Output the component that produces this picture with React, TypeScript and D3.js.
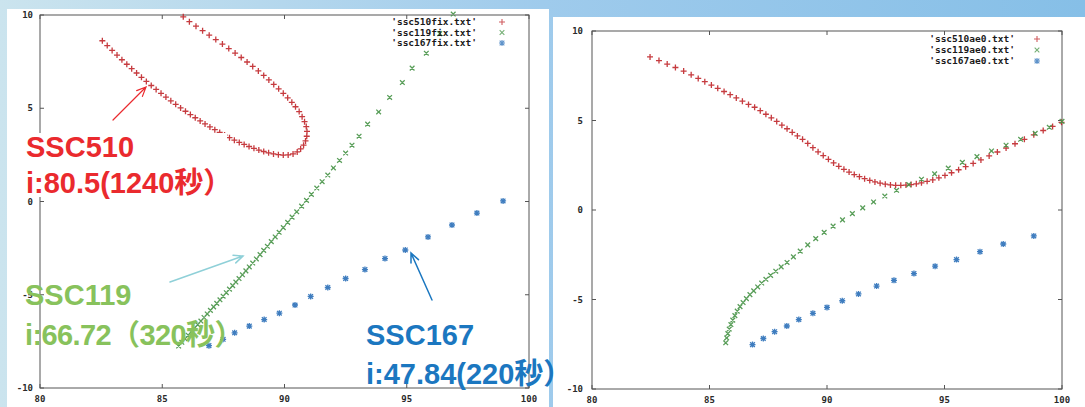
import { useEffect } from "react";
import * as d3 from "d3";

type Pt = [number, number];
type Kind = "plus" | "cross" | "star";

const X_TICKS = [80, 85, 90, 95, 100];
const Y_TICKS = [-10, -5, 0, 5, 10];

const FIX_LEGEND = ["'ssc510fix.txt'", "'ssc119fix.txt'", "'ssc167fix.txt'"];
const AE0_LEGEND = ["'ssc510ae0.txt'", "'ssc119ae0.txt'", "'ssc167ae0.txt'"];

// left plot: *fix.txt
const FIX_510: Pt[] = [
  [82.55, 8.62], [82.75, 8.36], [82.95, 8.1], [83.15, 7.85], [83.35, 7.6], [83.55, 7.36],
  [83.75, 7.12], [83.95, 6.89], [84.15, 6.66], [84.35, 6.44], [84.55, 6.22], [84.75, 6.01],
  [84.95, 5.8], [85.15, 5.6], [85.35, 5.4], [85.55, 5.21], [85.75, 5.02], [85.95, 4.84],
  [86.15, 4.66], [86.35, 4.49], [86.55, 4.32], [86.75, 4.16], [86.95, 4.0], [87.15, 3.85],
  [87.35, 3.7], [87.55, 3.56], [87.75, 3.42], [87.95, 3.29], [88.15, 3.17], [88.35, 3.06],
  [88.55, 2.95], [88.75, 2.85], [88.95, 2.76], [89.15, 2.68], [89.35, 2.61], [89.55, 2.55],
  [89.75, 2.51], [89.95, 2.49], [90.15, 2.5], [90.35, 2.55], [90.52, 2.66], [90.66, 2.82],
  [90.78, 3.02], [90.86, 3.25], [90.91, 3.5], [90.92, 3.76], [90.89, 4.02], [90.82, 4.28],
  [90.72, 4.55], [90.6, 4.82], [90.45, 5.08], [90.3, 5.32], [90.13, 5.56], [89.95, 5.8],
  [89.76, 6.04], [89.56, 6.28], [89.36, 6.52], [89.15, 6.76], [88.93, 7.0], [88.7, 7.24],
  [88.47, 7.48], [88.23, 7.72], [87.98, 7.96], [87.72, 8.2], [87.46, 8.44], [87.19, 8.68],
  [86.92, 8.92], [86.65, 9.16], [86.38, 9.4], [86.11, 9.64], [85.86, 9.9],
];

const FIX_119: Pt[] = [
  [85.67, -7.75], [85.8, -7.55], [85.93, -7.36], [86.06, -7.17], [86.19, -6.98], [86.32, -6.79],
  [86.45, -6.6], [86.58, -6.41], [86.71, -6.22], [86.84, -6.03], [86.97, -5.84], [87.1, -5.65],
  [87.23, -5.46], [87.36, -5.27], [87.49, -5.08], [87.62, -4.89], [87.75, -4.7], [87.88, -4.51],
  [88.01, -4.32], [88.14, -4.13], [88.28, -3.93], [88.42, -3.72], [88.56, -3.51], [88.7, -3.3],
  [88.85, -3.08], [89.0, -2.85], [89.15, -2.62], [89.3, -2.4], [89.46, -2.15], [89.62, -1.9],
  [89.78, -1.65], [89.95, -1.4], [90.13, -1.12], [90.31, -0.84], [90.5, -0.55], [90.7, -0.25],
  [90.9, 0.06], [91.1, 0.38], [91.32, 0.72], [91.54, 1.06], [91.77, 1.42], [92.0, 1.8],
  [92.25, 2.2], [92.5, 2.6], [92.76, 3.02], [93.05, 3.5], [93.4, 4.15], [93.85, 4.8],
  [94.3, 5.58], [94.82, 6.38], [95.22, 7.15], [95.8, 7.95], [96.35, 9.0], [96.9, 10.05],
];

const FIX_167: Pt[] = [
  [86.91, -7.73], [87.49, -7.39], [87.96, -7.04], [88.56, -6.68], [89.17, -6.33], [89.79, -5.99],
  [90.43, -5.55], [91.07, -5.09], [91.77, -4.61], [92.5, -4.13], [93.29, -3.65], [94.11, -3.06],
  [94.94, -2.6], [95.87, -1.9], [96.85, -1.26], [97.87, -0.62], [98.94, 0.03],
];

// right plot: *ae0.txt
const AE0_510: Pt[] = [
  [82.47, 8.55], [82.85, 8.35], [83.2, 8.15], [83.55, 7.96], [83.9, 7.76], [84.22, 7.55],
  [84.52, 7.35], [84.8, 7.17], [85.08, 6.98], [85.35, 6.8], [85.62, 6.62], [85.88, 6.44],
  [86.14, 6.26], [86.4, 6.08], [86.66, 5.9], [86.92, 5.74], [87.16, 5.55], [87.4, 5.35],
  [87.63, 5.15], [87.86, 4.95], [88.08, 4.74], [88.3, 4.54], [88.52, 4.34], [88.74, 4.14],
  [88.96, 3.95], [89.18, 3.72], [89.4, 3.48], [89.62, 3.25], [89.84, 3.04], [90.06, 2.83],
  [90.28, 2.63], [90.5, 2.44], [90.72, 2.27], [90.94, 2.12], [91.16, 1.98], [91.38, 1.86],
  [91.6, 1.75], [91.82, 1.65], [92.04, 1.57], [92.26, 1.5], [92.48, 1.44], [92.7, 1.4],
  [92.92, 1.38], [93.14, 1.38], [93.36, 1.39], [93.58, 1.42], [93.8, 1.46], [94.02, 1.52],
  [94.26, 1.6], [94.5, 1.68], [94.76, 1.8], [95.02, 1.93], [95.3, 2.08], [95.6, 2.25],
  [95.9, 2.42], [96.22, 2.6], [96.55, 2.8], [96.9, 3.02], [97.25, 3.24], [97.62, 3.46],
  [98.0, 3.7], [98.4, 3.95], [98.8, 4.2], [99.2, 4.44], [99.6, 4.67], [99.98, 4.9],
];

const AE0_119: Pt[] = [
  [85.69, -7.42], [85.73, -7.15], [85.78, -6.9], [85.84, -6.65], [85.91, -6.4], [85.99, -6.15],
  [86.08, -5.9], [86.18, -5.65], [86.3, -5.4], [86.43, -5.17], [86.57, -4.95], [86.72, -4.73],
  [86.88, -4.52], [87.05, -4.3], [87.22, -4.08], [87.4, -3.87], [87.6, -3.65], [87.82, -3.42],
  [88.05, -3.18], [88.3, -2.93], [88.57, -2.62], [88.86, -2.3], [89.18, -1.95], [89.52, -1.6],
  [89.88, -1.25], [90.26, -0.9], [90.66, -0.55], [91.08, -0.2], [91.52, 0.12], [91.98, 0.45],
  [92.46, 0.78], [92.96, 1.1], [93.48, 1.42], [94.02, 1.72], [94.58, 2.02], [95.16, 2.34],
  [95.76, 2.66], [96.38, 2.98], [97.0, 3.3], [97.62, 3.62], [98.24, 3.95], [98.86, 4.28],
  [99.46, 4.62], [100.0, 4.95],
];

const AE0_167: Pt[] = [
  [86.83, -7.52], [87.29, -7.18], [87.77, -6.8], [88.29, -6.48], [88.8, -6.12], [89.4, -5.77],
  [90.0, -5.44], [90.65, -5.07], [91.34, -4.69], [92.11, -4.25], [92.85, -3.93], [93.7, -3.55],
  [94.6, -3.14], [95.51, -2.77], [96.51, -2.33], [97.5, -1.9], [98.8, -1.45],
];

interface Series {
  data: Pt[];
  kind: Kind;
  color: string;
  key: string;
}

interface Box {
  left: number;
  right: number;
  top: number;
  bottom: number;
  labelGap: number;
  legendEnd: number;
  legendMark: number;
  legendTop: number;
  legendStep: number;
}

function marker(kind: Kind, x: number, y: number, r: number): string {
  const plus = `M${x - r},${y}h${2 * r}M${x},${y - r}v${2 * r}`;
  const k = r * 0.78;
  const cross = `M${x - k},${y - k}l${2 * k},${2 * k}M${x - k},${y + k}l${2 * k},${-2 * k}`;
  if (kind === "plus") return plus;
  if (kind === "cross") return cross;
  return plus + cross;
}

const tickFont = {
  fontFamily: "'DejaVu Sans Mono', monospace",
  fontWeight: 700,
  fontSize: 9,
  fill: "#2a2a2a",
};

function Panel({ box, series, legend }: { box: Box; series: Series[]; legend: string[] }) {
  const x = d3.scaleLinear().domain([80, 100]).range([box.left, box.right]);
  const y = d3.scaleLinear().domain([-10, 10]).range([box.bottom, box.top]);
  const tl = 4;
  const axisColor = "#555";

  return (
    <g>
      <rect
        x={box.left}
        y={box.top}
        width={box.right - box.left}
        height={box.bottom - box.top}
        fill="none"
        stroke={axisColor}
        strokeWidth={1}
      />
      {X_TICKS.map((t) => (
        <g key={"x" + t}>
          <line x1={x(t)} x2={x(t)} y1={box.bottom} y2={box.bottom - tl} stroke={axisColor} />
          <line x1={x(t)} x2={x(t)} y1={box.top} y2={box.top + tl} stroke={axisColor} />
          <text x={x(t)} y={box.bottom + 14} textAnchor="middle" style={tickFont}>
            {t}
          </text>
        </g>
      ))}
      {Y_TICKS.map((t) => (
        <g key={"y" + t}>
          <line x1={box.left} x2={box.left + tl} y1={y(t)} y2={y(t)} stroke={axisColor} />
          <line x1={box.right} x2={box.right - tl} y1={y(t)} y2={y(t)} stroke={axisColor} />
          <text x={box.left - box.labelGap} y={y(t) + 3} textAnchor="end" style={tickFont}>
            {t}
          </text>
        </g>
      ))}
      {series.map((s) => (
        <path
          key={s.key}
          d={s.data.map(([a, b]) => marker(s.kind, x(a), y(b), 3)).join("")}
          fill="none"
          stroke={s.color}
          strokeWidth={1.3}
          strokeOpacity={0.9}
        />
      ))}
      {legend.map((label, i) => {
        const ly = box.legendTop + i * box.legendStep;
        return (
          <g key={label}>
            <text
              x={box.legendEnd}
              y={ly + 3}
              textAnchor="end"
              style={{ ...tickFont, fontSize: 9.5, fill: "#1a1a1a" }}
            >
              {label}
            </text>
            <path
              d={marker(series[i].kind, box.legendMark, ly, 3)}
              fill="none"
              stroke={series[i].color}
              strokeWidth={1.1}
              strokeOpacity={0.75}
            />
          </g>
        );
      })}
    </g>
  );
}

const RED = "#c0262a";
const GREEN = "#479447";
const BLUE = "#2a6fb8";

const annoFont = {
  fontFamily: "'Liberation Sans', Arial, 'Noto Sans CJK JP', sans-serif",
  fontWeight: 700,
  fontSize: 29,
};

function Arrow({ x1, y1, x2, y2, color, w }: { x1: number; y1: number; x2: number; y2: number; color: string; w: number }) {
  const a = Math.atan2(y2 - y1, x2 - x1);
  const h = 10;
  const s = 0.42;
  const p1 = [x2 - h * Math.cos(a - s), y2 - h * Math.sin(a - s)];
  const p2 = [x2 - h * Math.cos(a + s), y2 - h * Math.sin(a + s)];
  return (
    <path
      d={`M${x1},${y1}L${x2},${y2}M${p1[0]},${p1[1]}L${x2},${y2}L${p2[0]},${p2[1]}`}
      fill="none"
      stroke={color}
      strokeWidth={w}
      strokeLinecap="round"
    />
  );
}

export default function App() {
  useEffect(() => {
    document.body.style.margin = "0";
  }, []);

  const leftBox: Box = {
    left: 40, right: 529, top: 15, bottom: 388, labelGap: 7,
    legendEnd: 477, legendMark: 502, legendTop: 22, legendStep: 10.5,
  };
  const rightBox: Box = {
    left: 592, right: 1062, top: 31, bottom: 389, labelGap: 9,
    legendEnd: 1015, legendMark: 1037, legendTop: 39, legendStep: 11,
  };

  const fixSeries: Series[] = [
    { key: "510", data: FIX_510, kind: "plus", color: RED },
    { key: "119", data: FIX_119, kind: "cross", color: GREEN },
    { key: "167", data: FIX_167, kind: "star", color: BLUE },
  ];
  const ae0Series: Series[] = [
    { key: "510", data: AE0_510, kind: "plus", color: RED },
    { key: "119", data: AE0_119, kind: "cross", color: GREEN },
    { key: "167", data: AE0_167, kind: "star", color: BLUE },
  ];

  return (
    <svg width={1085} height={407} style={{ position: "absolute", left: 0, top: 0, display: "block" }}>
      <defs>
        <linearGradient id="bg" x1="0" x2="1" y1="0" y2="0">
          <stop offset="0%" stopColor="#cbe4ee" />
          <stop offset="50%" stopColor="#9fcbec" />
          <stop offset="100%" stopColor="#86bfe7" />
        </linearGradient>
      </defs>
      <rect x={0} y={0} width={1085} height={407} fill="url(#bg)" />
      <rect x={7} y={9} width={542} height={398} fill="#fff" />
      <rect x={553} y={17} width={532} height={390} fill="#fff" />

      <Panel box={leftBox} series={fixSeries} legend={FIX_LEGEND} />
      <Panel box={rightBox} series={ae0Series} legend={AE0_LEGEND} />

      {/* annotations */}
      <rect x={22} y={133} width={205} height={64} fill="#fff" />
      <text x={26} y={157} fill="#ea2a2e" style={annoFont}>SSC510</text>
      <text x={26} y={193} fill="#ea2a2e" style={annoFont}>i:80.5(1240秒）</text>
      <Arrow x1={113} y1={120} x2={146} y2={87} color="#ea2a2e" w={1.2} />

      <text x={25} y={305} fill="#88c25c" style={annoFont}>SSC119</text>
      <text x={25} y={345} fill="#88c25c" style={{ ...annoFont, letterSpacing: -0.6 }}>i:66.72（320秒）</text>
      <Arrow x1={170} y1={282} x2={243} y2={256} color="#8fd0d8" w={1.5} />

      <text x={366} y={345} fill="#1b77c0" style={annoFont}>SSC167</text>
      <text x={366} y={384} fill="#1b77c0" style={annoFont}>i:47.84(220秒）</text>
      <Arrow x1={432} y1={300} x2={411} y2={253} color="#1b77c0" w={1.5} />
    </svg>
  );
}
